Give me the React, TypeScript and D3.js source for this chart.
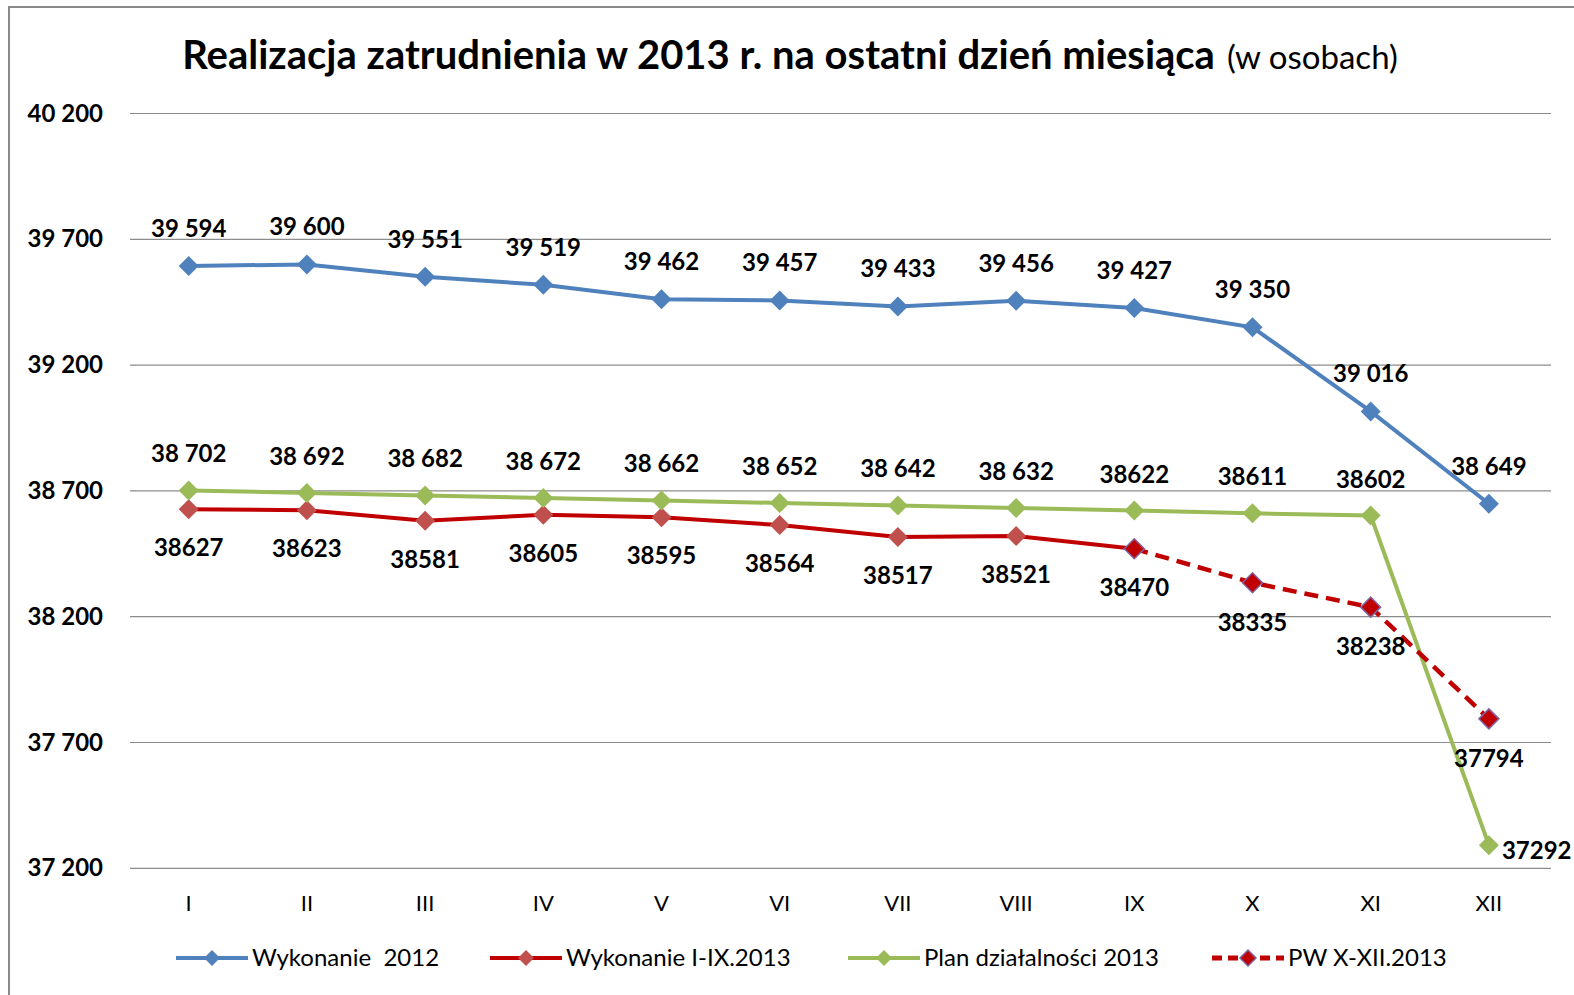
import * as d3 from "d3";

const months = ["I", "II", "III", "IV", "V", "VI", "VII", "VIII", "IX", "X", "XI", "XII"];
const yTicks = [37200, 37700, 38200, 38700, 39200, 39700, 40200];

const wyk2012 = [39594, 39600, 39551, 39519, 39462, 39457, 39433, 39456, 39427, 39350, 39016, 38649];
const wyk2012Labels = ["39 594", "39 600", "39 551", "39 519", "39 462", "39 457", "39 433", "39 456", "39 427", "39 350", "39 016", "38 649"];

const wyk2013 = [38627, 38623, 38581, 38605, 38595, 38564, 38517, 38521, 38470];
const wyk2013Labels = ["38627", "38623", "38581", "38605", "38595", "38564", "38517", "38521", "38470"];

const plan2013 = [38702, 38692, 38682, 38672, 38662, 38652, 38642, 38632, 38622, 38611, 38602, 37292];
const plan2013Labels = ["38 702", "38 692", "38 682", "38 672", "38 662", "38 652", "38 642", "38 632", "38622", "38611", "38602", "37292"];

const pwMonths = ["IX", "X", "XI", "XII"];
const pw2013 = [38470, 38335, 38238, 37794];
const pw2013Labels = ["", "38335", "38238", "37794"];

const W = 1574;
const H = 995;
const FONT = "Lato, 'Open Sans', sans-serif";

const BLUE = "#4f81bd";
const RED = "#c00000";
const RED_MK = "#c0504d";
const GREEN = "#9bbb59";
const PURPLE = "#8064a2";

function Diamond({ x, y, r, fill, stroke }: { x: number; y: number; r: number; fill: string; stroke?: string }) {
  return (
    <path
      d={`M${x},${y - r}L${x + r},${y}L${x},${y + r}L${x - r},${y}Z`}
      fill={fill}
      stroke={stroke || "none"}
      strokeWidth={stroke ? 1.5 : 0}
    />
  );
}

export default function App() {
  const x = d3.scaleBand<string>().domain(months).range([129.6, 1548]);
  const cx = (m: string) => (x(m) as number) + x.bandwidth() / 2;
  const y = d3.scaleLinear().domain([37200, 40200]).range([868.3, 113.5]);

  const line = d3
    .line<{ m: string; v: number }>()
    .x((d) => cx(d.m))
    .y((d) => y(d.v));

  const blueData = months.map((m, i) => ({ m, v: wyk2012[i] }));
  const redData = wyk2013.map((v, i) => ({ m: months[i], v }));
  const greenData = months.map((m, i) => ({ m, v: plan2013[i] }));
  const pwData = pw2013.map((v, i) => ({ m: pwMonths[i], v }));

  const legend = [
    { x0: 176, label: "Wykonanie  2012", color: BLUE, mk: BLUE, dash: false, stroke: undefined },
    { x0: 490, label: "Wykonanie I-IX.2013", color: RED, mk: RED_MK, dash: false, stroke: undefined },
    { x0: 848, label: "Plan działalności 2013", color: GREEN, mk: GREEN, dash: false, stroke: undefined },
    { x0: 1212, label: "PW X-XII.2013", color: RED, mk: RED, dash: true, stroke: PURPLE },
  ];

  return (
    <svg width={W} height={H} style={{ position: "absolute", left: 0, top: 0, background: "#fff" }} fontFamily={FONT}>
      <rect x={0} y={0} width={W} height={H} fill="#fff" />
      <rect x={9} y={7} width={W + 20} height={H + 20} fill="none" stroke="#8a8a8a" strokeWidth={2} />

      {/* title */}
      <text x={790} y={69} textAnchor="middle" fill="#000">
        <tspan fontSize={40} fontWeight="bold">Realizacja zatrudnienia w 2013 r. na ostatni dzień miesiąca</tspan>
        <tspan fontSize={33} dx={12}>(w osobach)</tspan>
      </text>

      {/* grid + y labels */}
      {yTicks.map((t) => (
        <g key={t}>
          <line x1={130} x2={1551} y1={y(t)} y2={y(t)} stroke="#8c8c8c" strokeWidth={1.2} />
          <text x={103} y={y(t) + 8} textAnchor="end" fontSize={24} fontWeight="bold" fill="#000">
            {d3.format(",")(t).replace(",", " ")}
          </text>
        </g>
      ))}

      {/* x labels */}
      {months.map((m) => (
        <text key={m} x={cx(m)} y={911} textAnchor="middle" fontSize={22} fill="#000">
          {m}
        </text>
      ))}

      {/* series */}
      <path d={line(blueData) || ""} fill="none" stroke={BLUE} strokeWidth={4} />
      <path d={line(redData) || ""} fill="none" stroke={RED} strokeWidth={4} />
      <path d={line(greenData) || ""} fill="none" stroke={GREEN} strokeWidth={4} />
      <path d={line(pwData) || ""} fill="none" stroke={RED} strokeWidth={4.5} strokeDasharray="14,8" />

      {blueData.map((d) => (
        <Diamond key={"b" + d.m} x={cx(d.m)} y={y(d.v)} r={10} fill={BLUE} />
      ))}
      {redData.map((d) => (
        <Diamond key={"r" + d.m} x={cx(d.m)} y={y(d.v)} r={10} fill={RED_MK} />
      ))}
      {greenData.map((d) => (
        <Diamond key={"g" + d.m} x={cx(d.m)} y={y(d.v)} r={10} fill={GREEN} />
      ))}
      {pwData.map((d) => (
        <Diamond key={"p" + d.m} x={cx(d.m)} y={y(d.v)} r={10} fill={RED} stroke={PURPLE} />
      ))}

      {/* data labels */}
      <g fontSize={24} fontWeight="bold" fill="#000" textAnchor="middle">
        {blueData.map((d, i) => (
          <text key={"bl" + d.m} x={cx(d.m)} y={y(d.v) - 29}>
            {wyk2012Labels[i]}
          </text>
        ))}
        {greenData.map((d, i) =>
          i === 11 ? (
            <text key={"gl" + d.m} x={cx(d.m) + 13} y={y(d.v) + 14} textAnchor="start">
              {plan2013Labels[i]}
            </text>
          ) : (
            <text key={"gl" + d.m} x={cx(d.m)} y={y(d.v) - 28}>
              {plan2013Labels[i]}
            </text>
          )
        )}
        {redData.map((d, i) => (
          <text key={"rl" + d.m} x={cx(d.m)} y={y(d.v) + 47}>
            {wyk2013Labels[i]}
          </text>
        ))}
        {pwData.map((d, i) =>
          pw2013Labels[i] ? (
            <text key={"pl" + d.m} x={cx(d.m)} y={y(d.v) + 48}>
              {pw2013Labels[i]}
            </text>
          ) : null
        )}
      </g>

      {/* legend */}
      {legend.map((l) => (
        <g key={l.label}>
          <line
            x1={l.x0}
            x2={l.x0 + 72}
            y1={958}
            y2={958}
            stroke={l.color}
            strokeWidth={l.dash ? 5 : 4}
            strokeDasharray={l.dash ? "10,6" : undefined}
          />
          <Diamond x={l.x0 + 36} y={958} r={8} fill={l.mk} stroke={l.stroke} />
          <text x={l.x0 + 76} y={966} fontSize={24} fill="#000" style={{ whiteSpace: "pre" }}>
            {l.label}
          </text>
        </g>
      ))}
    </svg>
  );
}
